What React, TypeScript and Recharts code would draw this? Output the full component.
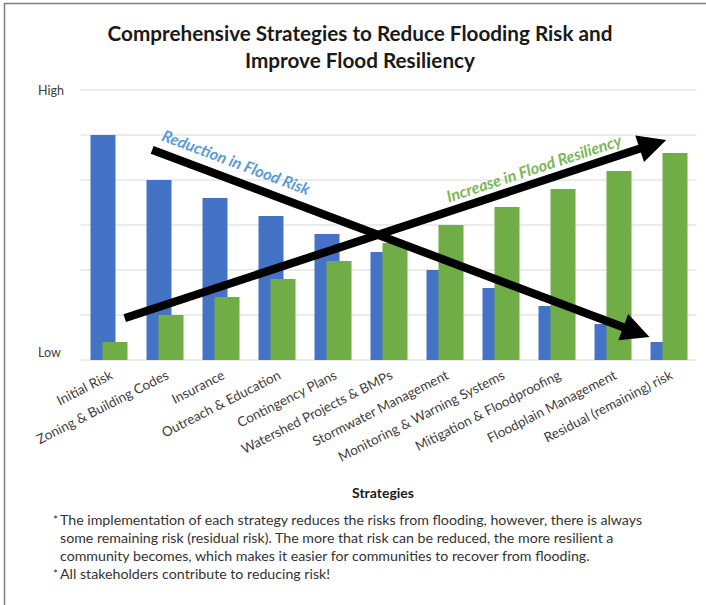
import React from "react";
import { BarChart, Bar, XAxis, YAxis, CartesianGrid, ReferenceLine } from "recharts";

const categories = [
  "Initial Risk",
  "Zoning & Building Codes",
  "Insurance",
  "Outreach & Education",
  "Contingency Plans",
  "Watershed Projects & BMPs",
  "Stormwater Management",
  "Monitoring & Warning Systems",
  "Mitigation & Floodproofing",
  "Floodplain Management",
  "Residual (remaining) risk",
];
const riskValues = [5.0, 4.0, 3.6, 3.2, 2.8, 2.4, 2.0, 1.6, 1.2, 0.8, 0.4];
const resiliencyValues = [0.4, 1.0, 1.4, 1.8, 2.2, 2.6, 3.0, 3.4, 3.8, 4.2, 4.6];
const yTickValues = [0, 1, 2, 3, 4, 5, 6];
const yTickLabels: Record<number, string> = { 0: "Low", 6: "High" };
const reductionArrow = [
  { x: 0.78, y: 4.67 },
  { x: 9.66, y: 0.51 },
];
const resiliencyArrow = [
  { x: 0.29, y: 0.93 },
  { x: 9.96, y: 4.89 },
];
const reductionLabel = "Reduction in Flood Risk";
const resiliencyLabel = "Increase in Flood Resiliency";
const titleLines = [
  "Comprehensive Strategies to Reduce Flooding Risk and",
  "Improve Flood Resiliency",
];
const xAxisTitle = "Strategies";
const noteLines = [
  { bullet: true, text: "The implementation of each strategy reduces the risks from flooding, however, there is always" },
  { bullet: false, text: "some remaining risk (residual risk). The more that risk can be reduced, the more resilient  a" },
  { bullet: false, text: "community becomes, which makes it easier for communities to recover from flooding." },
  { bullet: true, text: "All stakeholders contribute to reducing risk!" },
];

const data = categories.map((name, i) => ({
  name,
  idx: i,
  risk: riskValues[i],
  resiliency: resiliencyValues[i],
}));

const FONT = "Lato, 'Open Sans', 'Noto Sans', sans-serif";
const BLUE = "#4472C4";
const GREEN = "#70AD47";

function makeArrowShape(label: string, color: string, labelT: number, labelOffset: number) {
  return (props: any) => {
    const { x1, y1, x2, y2 } = props;
    const dx = x2 - x1;
    const dy = y2 - y1;
    const len = Math.hypot(dx, dy);
    const ux = dx / len;
    const uy = dy / len;
    const headLen = 28;
    const headHalf = 14;
    const bx = x2 - ux * headLen;
    const by = y2 - uy * headLen;
    const px = -uy;
    const py = ux;
    const pts = `${x2},${y2} ${bx + px * headHalf},${by + py * headHalf} ${bx - px * headHalf},${by - py * headHalf}`;
    const angle = (Math.atan2(dy, dx) * 180) / Math.PI;
    const nx = uy;
    const ny = -ux;
    const cx = x1 + dx * labelT + nx * labelOffset;
    const cy = y1 + dy * labelT + ny * labelOffset;
    return (
      <g>
        <line x1={x1} y1={y1} x2={bx + ux * 4} y2={by + uy * 4} stroke="#000" strokeWidth={8.2} />
        <polygon points={pts} fill="#000" />
        <text
          x={cx}
          y={cy}
          transform={`rotate(${angle} ${cx} ${cy})`}
          textAnchor="middle"
          dominantBaseline="central"
          fontFamily={FONT}
          fontSize={16}
          fontWeight={700}
          fontStyle="italic"
          fill={color}
        >
          {label}
        </text>
      </g>
    );
  };
}

const YTick = (props: any) => {
  const { y, payload } = props;
  const label = yTickLabels[payload.value];
  if (!label) return <g />;
  return (
    <text
      x={38}
      y={payload.value === 0 ? y - 8 : y}
      textAnchor="start"
      dominantBaseline="central"
      fontFamily={FONT}
      fontSize={12.5}
      fill="#404040"
    >
      {label}
    </text>
  );
};

const XTick = (props: any) => {
  const { x, y, payload } = props;
  return (
    <g transform={`translate(${x + 3},${y + 14})`}>
      <text
        textAnchor="end"
        dy="0.35em"
        transform="rotate(-27)"
        fontFamily={FONT}
        fontSize={13.5}
        fill="#404040"
      >
        {payload.value}
      </text>
    </g>
  );
};

export default function App() {
  return (
    <div style={{ position: "absolute", left: 0, top: 0, width: 706, height: 605, background: "#fff" }}>
      <BarChart
        width={706}
        height={605}
        data={data}
        margin={{ top: 90, right: 9.5, bottom: 215, left: 0 }}
        barSize={25}
        barGap={-13}
      >
        <CartesianGrid vertical={false} stroke="#d9d9d9" strokeWidth={1} />
        <XAxis
          dataKey="name"
          interval={0}
          axisLine={false}
          tickLine={false}
          tickSize={0}
          tickMargin={0}
          height={30}
          tick={<XTick />}
        />
        <XAxis
          xAxisId="num"
          dataKey="idx"
          type="number"
          domain={[-0.5, 10.5]}
          allowDataOverflow={true}
          hide
        />
        <YAxis
          width={80.5}
          domain={[0, 6]}
          ticks={yTickValues}
          axisLine={false}
          tickLine={false}
          tick={<YTick />}
          interval={0}
        />
        <Bar dataKey="risk" fill={BLUE} isAnimationActive={false} />
        <Bar dataKey="resiliency" fill={GREEN} isAnimationActive={false} />
        <ReferenceLine
          xAxisId="num"
          segment={reductionArrow}
          ifOverflow="visible"
          shape={makeArrowShape(reductionLabel, "#5B9BD5", 0.156, 18.5)}
        />
        <ReferenceLine
          xAxisId="num"
          segment={resiliencyArrow}
          ifOverflow="visible"
          shape={makeArrowShape(resiliencyLabel, "#7CB65A", 0.764, 15)}
        />
      </BarChart>
      <svg
        width={706}
        height={605}
        style={{ position: "absolute", left: 0, top: 0, pointerEvents: "none" }}
      >
        <line x1={4} y1={3.5} x2={706} y2={3.5} stroke="#7f7f7f" strokeWidth={1.5} />
        <line x1={4.5} y1={3} x2={4.5} y2={605} stroke="#7f7f7f" strokeWidth={1.5} />
        {titleLines.map((t, i) => (
          <text
            key={i}
            x={360}
            y={33 + i * 27}
            textAnchor="middle"
            dominantBaseline="central"
            fontFamily={FONT}
            fontSize={20.7}
            fontWeight={700}
            fill="#1a1a1a"
          >
            {t}
          </text>
        ))}
        <text
          x={383}
          y={492}
          textAnchor="middle"
          dominantBaseline="central"
          fontFamily={FONT}
          fontSize={14}
          fontWeight={700}
          fill="#1a1a1a"
        >
          {xAxisTitle}
        </text>
        {noteLines.map((n, i) => (
          <g key={i}>
            {n.bullet && (
              <text x={53} y={519 + i * 18} dominantBaseline="central" fontFamily={FONT} fontSize={12} fill="#333">
                *
              </text>
            )}
            <text x={60} y={519 + i * 18} dominantBaseline="central" fontFamily={FONT} fontSize={14.2} fill="#333">
              {n.text}
            </text>
          </g>
        ))}
      </svg>
    </div>
  );
}
